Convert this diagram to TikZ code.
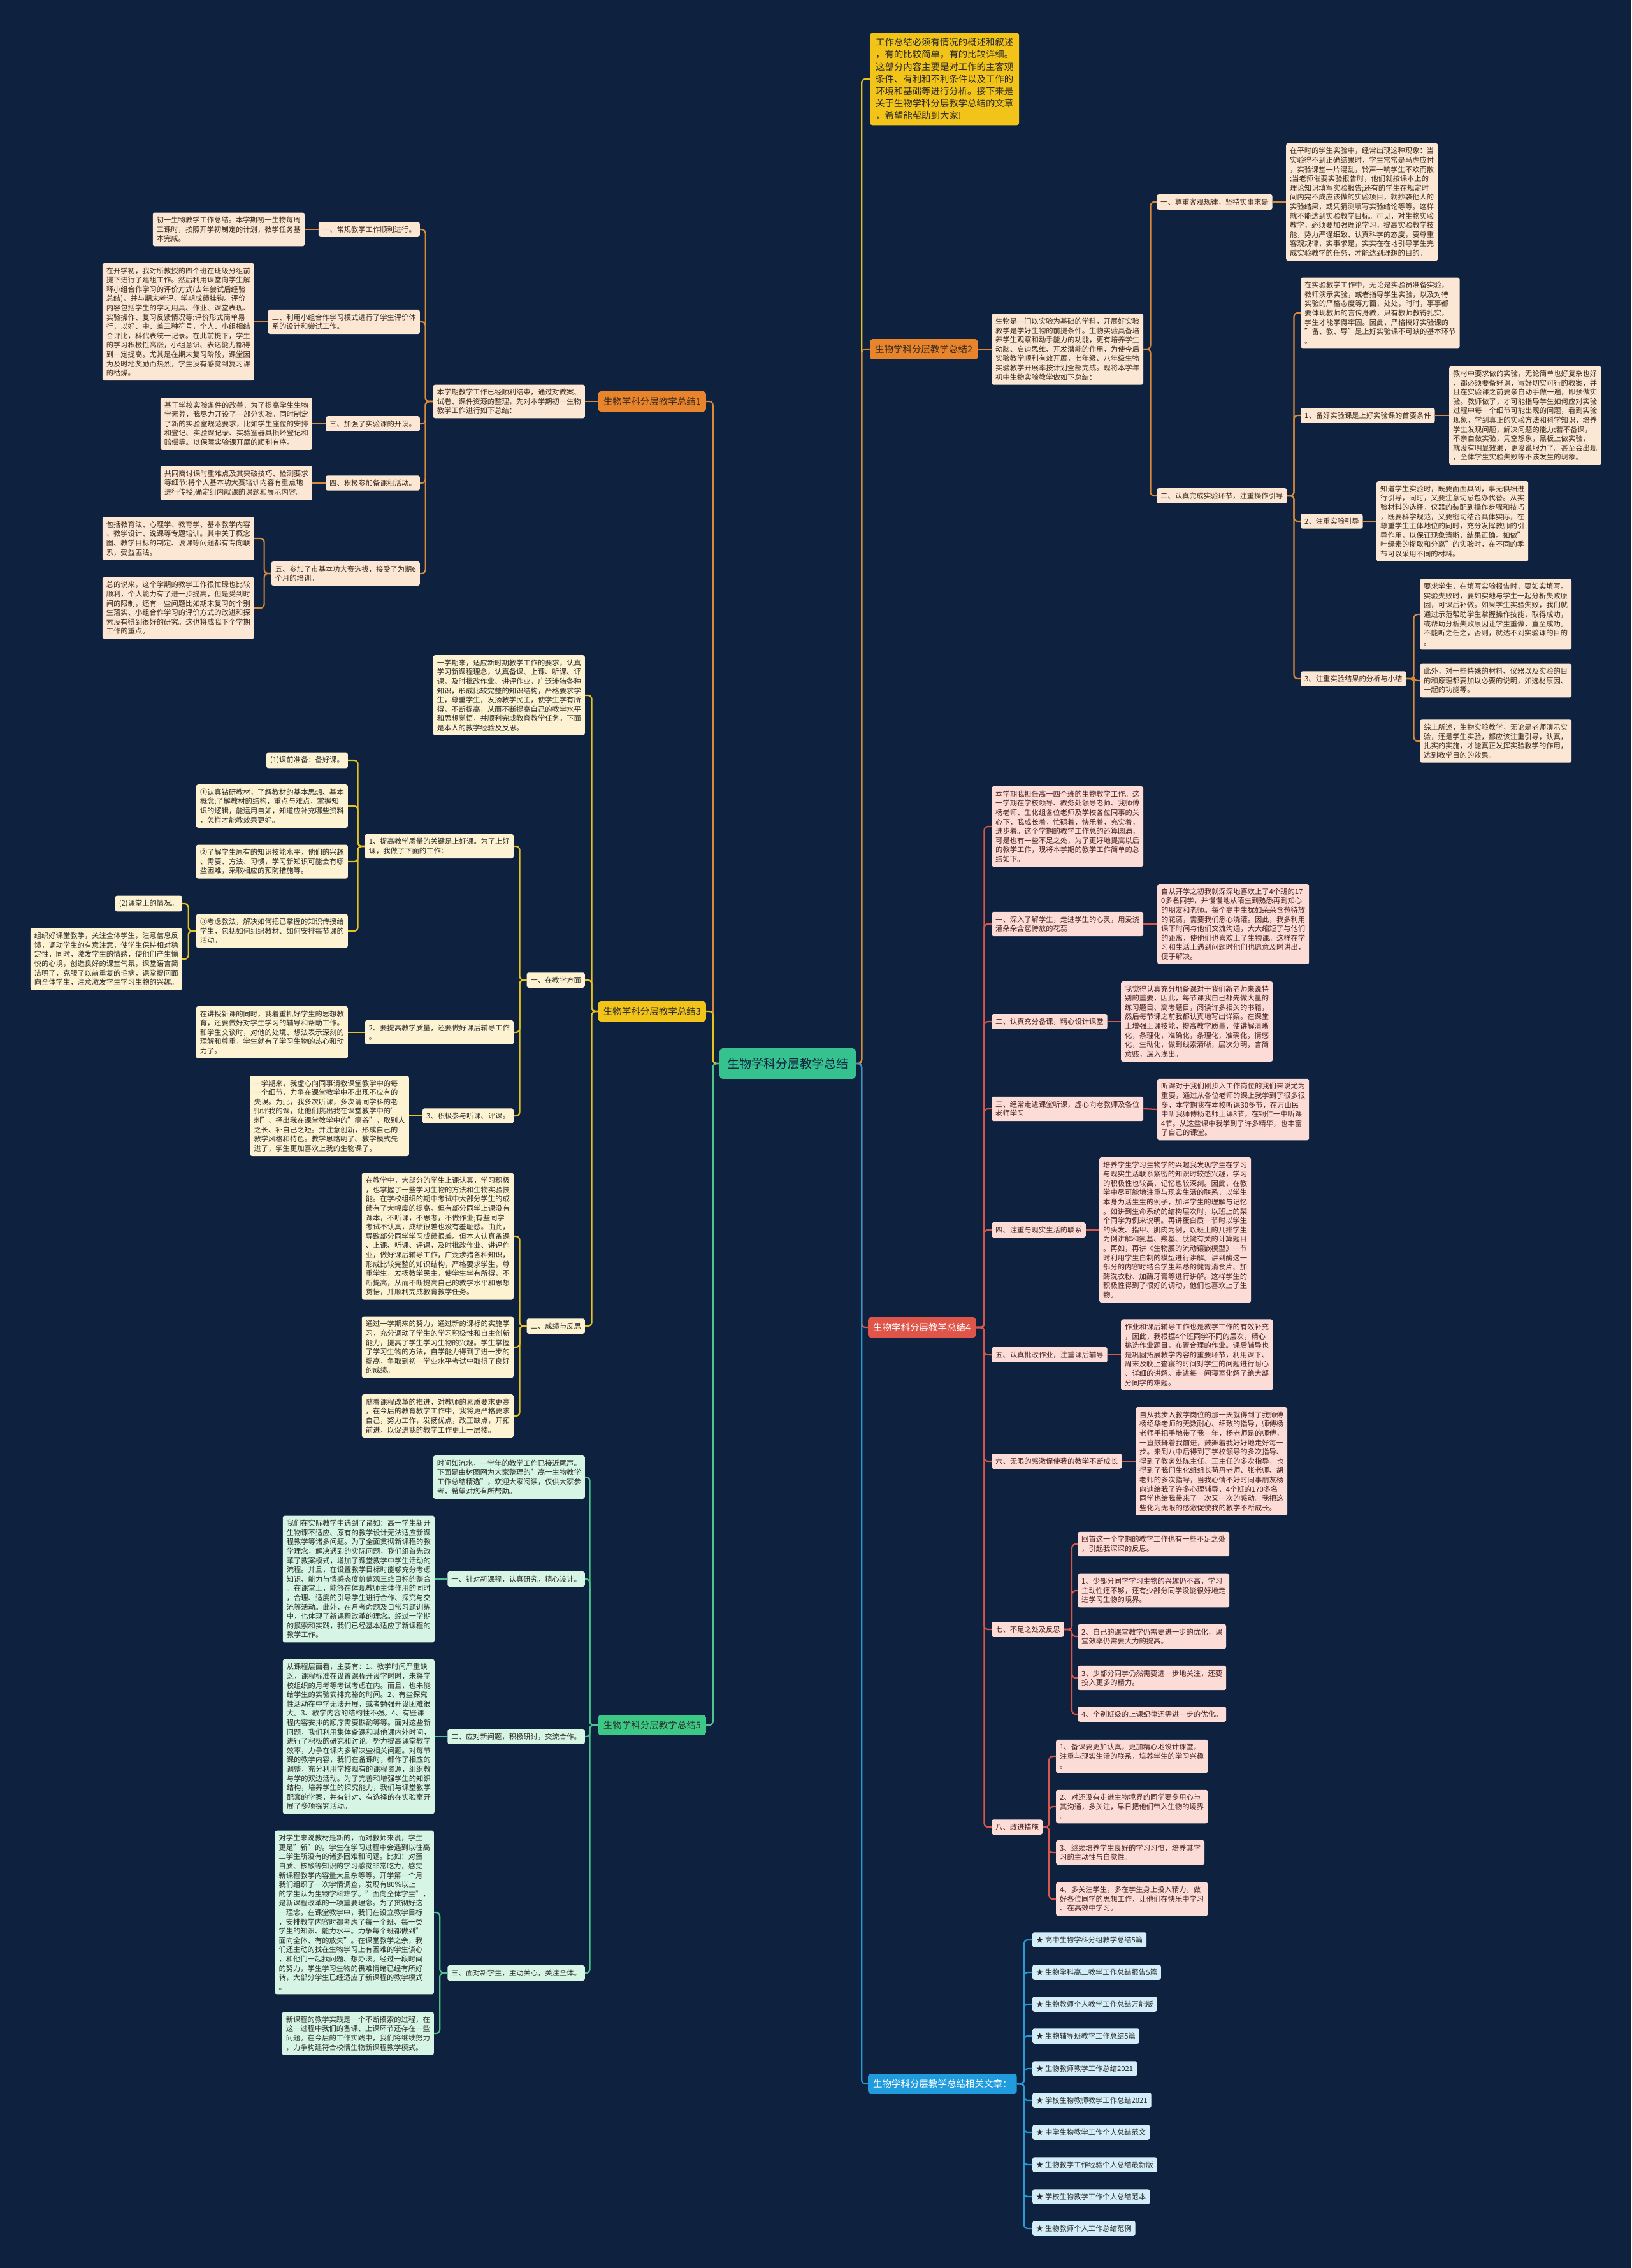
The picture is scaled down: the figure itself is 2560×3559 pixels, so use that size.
\documentclass[tikz,border=0pt]{standalone}
\usepackage{fontspec}
\setmainfont{Noto Sans CJK SC}
\usepackage{tikz}
\usetikzlibrary{positioning}
\definecolor{navyBg}{HTML}{0E2240}
\definecolor{rootGreen}{HTML}{36C28E}
\definecolor{topicOrange}{HTML}{E8842C}
\definecolor{topicGold}{HTML}{F2C318}
\definecolor{topicRed}{HTML}{E0554A}
\definecolor{topicGreen}{HTML}{3CC985}
\definecolor{topicBlue}{HTML}{1F9BDE}
\definecolor{cardPeach}{HTML}{FBE7D3}
\definecolor{cardCream}{HTML}{FDF3D2}
\definecolor{cardRose}{HTML}{FBDCD7}
\definecolor{cardMint}{HTML}{D6F5E4}
\definecolor{cardSky}{HTML}{D3EEF9}
\definecolor{lineOrange}{HTML}{D98A3A}
\definecolor{lineGold}{HTML}{E8C21E}
\definecolor{lineRed}{HTML}{D9574A}
\definecolor{lineGreen}{HTML}{4DC58D}
\definecolor{lineBlue}{HTML}{2A9AD6}
\definecolor{inkBrown}{HTML}{3A2A1E}
\definecolor{inkDark}{HTML}{2B2B2B}
\definecolor{inkRed}{HTML}{4A2020}
\newcommand{\cardsize}{\fontsize{11.3}{14.6}\selectfont}
\newcommand{\topicsize}{\fontsize{14.5}{18}\selectfont}
\newcommand{\notesize}{\fontsize{14.4}{19.2}\selectfont}
\newcommand{\rootsize}{\fontsize{19}{22}\selectfont}

\begin{document}
\begin{tikzpicture}[x=1pt, y=-1pt,
    card/.style={rounded corners=3pt, inner xsep=6pt, inner ysep=6.5pt, align=left, font=\cardsize},
    peach/.style={card, fill=cardPeach, text=inkBrown},
    cream/.style={card, fill=cardCream, text=inkDark},
    rose/.style={card, fill=cardRose, text=inkRed},
    mint/.style={card, fill=cardMint, text=inkDark},
    sky/.style={card, fill=cardSky, text=inkDark},
    topic/.style={rounded corners=4pt, inner xsep=8pt, inner ysep=9pt, font=\topicsize},
    rootbox/.style={rounded corners=5pt, fill=rootGreen, inner xsep=12pt, inner ysep=15pt, font=\rootsize, text=navyBg},
    notebox/.style={rounded corners=4pt, fill=topicGold, inner xsep=9pt, inner ysep=8pt, align=left, font=\notesize, text=inkDark},
    wireO/.style={draw=lineOrange, line width=2.2pt, rounded corners=6pt},
    wireY/.style={draw=lineGold, line width=2.2pt, rounded corners=6pt},
    wireR/.style={draw=lineRed, line width=2.2pt, rounded corners=6pt},
    wireG/.style={draw=lineGreen, line width=2.2pt, rounded corners=6pt},
    wireB/.style={draw=lineBlue, line width=2.2pt, rounded corners=6pt}]

  \fill[navyBg] (0,0) rectangle (2560,3559);

  % centre and top note
  \node[rootbox] (root) at (1236,1669) {生物学科分层教学总结};
  \node[notebox, anchor=west] (note) at (1365,124) {工作总结必须有情况的概述和叙述\\，有的比较简单，有的比较详细。\\这部分内容主要是对工作的主客观\\条件、有利和不利条件以及工作的\\环境和基础等进行分析。接下来是\\关于生物学科分层教学总结的文章\\，希望能帮助到大家!};

  % branch 1
  \node[topic, fill=topicOrange, text=inkBrown, anchor=east] (b1) at (1108,630) {生物学科分层教学总结1};
  \node[peach, anchor=east] (b1i) at (918,630) {本学期教学工作已经顺利结束，通过对教案、\\试卷、课件资源的整理，先对本学期初一生物\\教学工作进行如下总结：};
  \node[peach, anchor=east] (c1) at (659,360) {一、常规教学工作顺利进行。};
  \node[peach, anchor=east] (c1t) at (478,360) {初一生物教学工作总结。本学期初一生物每周\\三课时，按照开学初制定的计划，教学任务基\\本完成。};
  \node[peach, anchor=east] (c2) at (659,505) {二、利用小组合作学习模式进行了学生评价体\\系的设计和尝试工作。};
  \node[peach, anchor=east] (c2t) at (399,505) {在开学初，我对所教授的四个班在班级分组前\\提下进行了建组工作。然后利用课堂向学生解\\释小组合作学习的评价方式(去年尝试后经验\\总结)，并与期末考评、学期成绩挂钩。评价\\内容包括学生的学习用具、作业、课堂表现、\\实验操作、复习反馈情况等;评价形式简单易\\行，以好、中、差三种符号，个人、小组相结\\合评比，科代表统一记录。在此前提下，学生\\的学习积极性高涨，小组意识、表达能力都得\\到一定提高。尤其是在期末复习阶段，课堂因\\为及时地奖励而热烈，学生没有感觉到复习课\\的枯燥。};
  \node[peach, anchor=east] (c3) at (659,665) {三、加强了实验课的开设。};
  \node[peach, anchor=east] (c3t) at (490,665) {基于学校实验条件的改善，为了提高学生生物\\学素养，我尽力开设了一部分实验。同时制定\\了新的实验室规范要求，比如学生座位的安排\\和登记、实验课记录、实验室器具损坏登记和\\赔偿等。以保障实验课开展的顺利有序。};
  \node[peach, anchor=east] (c4) at (659,758) {四、积极参加备课租活动。};
  \node[peach, anchor=east] (c4t) at (490,758) {共同商讨课时重难点及其突破技巧、检测要求\\等细节;将个人基本功大赛培训内容有重点地\\进行传授;确定组内献课的课题和展示内容。};
  \node[peach, anchor=east] (c5) at (659,900) {五、参加了市基本功大赛选拔，接受了为期6\\个月的培训。};
  \node[peach, anchor=east] (c5a) at (399,845) {包括教育法、心理学、教育学、基本教学内容\\、教学设计、说课等专题培训。其中关于概念\\图、教学目标的制定、说课等问题都有专向联\\系，受益匪浅。};
  \node[peach, anchor=east] (c5b) at (399,954) {总的说来，这个学期的教学工作很忙碌也比较\\顺利，个人能力有了进一步提高，但是受到时\\间的限制，还有一些问题比如期末复习的个别\\生落实、小组合作学习的评价方式的改进和探\\索没有得到很好的研究。这也将成我下个学期\\工作的重点。};

  % branch 2
  \node[topic, fill=topicOrange, text=inkBrown, anchor=west] (b2) at (1365,548) {生物学科分层教学总结2};
  \node[peach, anchor=west] (b2i) at (1556,548) {生物是一门以实验为基础的学科，开展好实验\\教学是学好生物的前提条件。生物实验具备培\\养学生观察和动手能力的功能，更有培养学生\\动脑、启迪思维、开发潜能的作用，为使今后\\实验教学顺利有效开展，七年级、八年级生物\\实验教学开展率按计划全部完成。现将本学年\\初中生物实验教学做如下总结：};
  \node[peach, anchor=west] (d1) at (1815,317) {一、尊重客观规律，坚持实事求是};
  \node[peach, anchor=west] (d1t) at (2018,317) {在平时的学生实验中，经常出现这种现象：当\\实验得不到正确结果时，学生常常是马虎应付\\，实验课堂一片混乱，铃声一响学生不欢而散\\;当老师催要实验报告时，他们就按课本上的\\理论知识填写实验报告;还有的学生在规定时\\间内完不成应该做的实验项目，就抄袭他人的\\实验结果，或凭猜测填写实验结论等等。这样\\就不能达到实验教学目标。可见，对生物实验\\教学，必须要加强理论学习，提高实验教学技\\能，势力严谨细致、认真科学的态度，要尊重\\客观规律，实事求是，实实在在地引导学生完\\成实验教学的任务，才能达到理想的目的。};
  \node[peach, anchor=west] (d2) at (1815,778) {二、认真完成实验环节，注重操作引导};
  \node[peach, anchor=west] (d2t) at (2041,491) {在实验教学工作中，无论是实验员准备实验，\\教师演示实验，或者指导学生实验，以及对待\\实验的严格态度等方面，处处，时时，事事都\\要体现教师的言传身教，只有教师教得扎实，\\学生才能学得牢固。因此，严格搞好实验课的\\"备、教、导"是上好实验课不可缺的基本环节\\。};
  \node[peach, anchor=west] (e1) at (2041,652) {1、备好实验课是上好实验课的首要条件};
  \node[peach, anchor=west] (e1t) at (2274,652) {教材中要求做的实验，无论简单也好复杂也好\\，都必须要备好课，写好切实可行的教案，并\\且在实验课之前要亲自动手做一遍，即预做实\\验。教师做了，才可能指导学生如何应对实验\\过程中每一个细节可能出现的问题，看到实验\\现象，学到真正的实验方法和科学知识，培养\\学生发现问题，解决问题的能力;若不备课，\\不亲自做实验，凭空想象，黑板上做实验，\\就没有明显效果，更没说服力了。甚至会出现\\，全体学生实验失败等不该发生的现象。};
  \node[peach, anchor=west] (e2) at (2041,818) {2、注重实验引导};
  \node[peach, anchor=west] (e2t) at (2160,818) {知道学生实验时，既要面面具到，事无俱细进\\行引导，同时，又要注意切忌包办代替。从实\\验材料的选择，仪器的装配到操作步骤和技巧\\，既要科学规范，又要密切结合具体实际，在\\尊重学生主体地位的同时，充分发挥教师的引\\导作用，以保证现象清晰，结果正确。如做"\\叶绿素的提取和分离"的实验时，在不同的季\\节可以采用不同的材料。};
  \node[peach, anchor=west] (e3) at (2041,1065) {3、注重实验结果的分析与小结};
  \node[peach, anchor=west] (e3a) at (2228,964) {要求学生，在填写实验报告时，要如实填写。\\实验失败时，要如实地与学生一起分析失败原\\因，可课后补做。如果学生实验失败，我们就\\通过示范帮助学生掌握操作技能，取得成功，\\或帮助分析失败原因让学生重做，直至成功。\\不能听之任之，否则，就达不到实验课的目的\\。};
  \node[peach, anchor=west] (e3b) at (2228,1068) {此外，对一些特殊的材料、仪器以及实验的目\\的和原理都要加以必要的说明，如选材原因、\\一起的功能等。};
  \node[peach, anchor=west] (e3c) at (2228,1163) {综上所述，生物实验教学，无论是老师演示实\\验，还是学生实验，都应该注重引导，认真，\\扎实的实施，才能真正发挥实验教学的作用，\\达到教学目的的效果。};

  % branch 3
  \node[topic, fill=topicGold, text=inkDark, anchor=east] (b3) at (1108,1587) {生物学科分层教学总结3};
  \node[cream, anchor=east] (f0) at (918,1091) {一学期来，适应新时期教学工作的要求，认真\\学习新课程理念，认真备课、上课、听课、评\\课，及时批改作业、讲评作业，广泛涉猎各种\\知识，形成比较完整的知识结构，严格要求学\\生，尊重学生，发扬教学民主，使学生学有所\\得，不断提高，从而不断提高自己的教学水平\\和思想觉悟，并顺利完成教育教学任务。下面\\是本人的教学经验及反思。};
  \node[cream, anchor=east] (f1) at (918,1538) {一、在教学方面};
  \node[cream, anchor=east] (g1) at (806,1328) {1、提高教学质量的关键是上好课。为了上好\\课，我做了下面的工作：};
  \node[cream, anchor=east] (h1) at (546,1193) {(1)课前准备：备好课。};
  \node[cream, anchor=east] (h2) at (546,1265) {①认真钻研教材，了解教材的基本思想、基本\\概念;了解教材的结构，重点与难点，掌握知\\识的逻辑，能运用自如，知道应补充哪些资料\\，怎样才能教效果更好。};
  \node[cream, anchor=east] (h3) at (546,1352) {②了解学生原有的知识技能水平，他们的兴趣\\、需要、方法、习惯，学习新知识可能会有哪\\些困难，采取相应的预防措施等。};
  \node[cream, anchor=east] (h4) at (546,1461) {③考虑教法，解决如何把已掌握的知识传授给\\学生，包括如何组织教材、如何安排每节课的\\活动。};
  \node[cream, anchor=east] (h5) at (286,1418) {(2)课堂上的情况。};
  \node[cream, anchor=east] (h6) at (286,1505) {组织好课堂教学，关注全体学生，注意信息反\\馈，调动学生的有意注意，使学生保持相对稳\\定性，同时，激发学生的情感，使他们产生愉\\悦的心境，创造良好的课堂气氛，课堂语言简\\洁明了，克服了以前重复的毛病，课堂提问面\\向全体学生，注意激发学生学习生物的兴趣。};
  \node[cream, anchor=east] (g2) at (806,1620) {2、要提高教学质量，还要做好课后辅导工作\\。};
  \node[cream, anchor=east] (g2t) at (546,1620) {在讲授新课的同时，我着重抓好学生的思想教\\育，还要做好对学生学习的辅导和帮助工作。\\和学生交谈时，对他的处境、想法表示深刻的\\理解和尊重，学生就有了学习生物的热心和动\\力了。};
  \node[cream, anchor=east] (g3) at (806,1751) {3、积极参与听课、评课。};
  \node[cream, anchor=east] (g3t) at (642,1751) {一学期来，我虚心向同事请教课堂教学中的每\\一个细节，力争在课堂教学中不出现不应有的\\失误。为此，我多次听课，多次请同学科的老\\师评我的课，让他们挑出我在课堂教学中的"\\刺"、择出我在课堂教学中的"瘪谷"，取别人\\之长、补自己之短。并注意创新，形成自己的\\教学风格和特色。教学思路明了、教学模式先\\进了，学生更加喜欢上我的生物课了。};
  \node[cream, anchor=east] (f2) at (918,2081) {二、成绩与反思};
  \node[cream, anchor=east] (f2a) at (806,1940) {在教学中，大部分的学生上课认真，学习积极\\，也掌握了一些学习生物的方法和生物实验技\\能。在学校组织的期中考试中大部分学生的成\\绩有了大幅度的提高。但有部分同学上课没有\\课本，不听课，不思考，不做作业;有些同学\\考试不认真，成绩很差也没有羞耻感。由此，\\导致部分同学学习成绩很差。但本人认真备课\\、上课、听课、评课，及时批改作业、讲评作\\业，做好课后辅导工作，广泛涉猎各种知识，\\形成比较完整的知识结构，严格要求学生，尊\\重学生，发扬教学民主，使学生学有所得，不\\断提高，从而不断提高自己的教学水平和思想\\觉悟，并顺利完成教育教学任务。};
  \node[cream, anchor=east] (f2b) at (806,2114) {通过一学期来的努力，通过新的课标的实施学\\习，充分调动了学生的学习积极性和自主创新\\能力，提高了学生学习生物的兴趣。学生掌握\\了学习生物的方法，自学能力得到了进一步的\\提高，争取到初一学业水平考试中取得了良好\\的成绩。};
  \node[cream, anchor=east] (f2c) at (806,2222) {随着课程改革的推进，对教师的素质要求更高\\，在今后的教育教学工作中，我将更严格要求\\自己，努力工作，发扬优点，改正缺点，开拓\\前进，以促进我的教学工作更上一层楼。};

  % branch 4
  \node[topic, fill=topicRed, text=white, anchor=west] (b4) at (1362,2083) {生物学科分层教学总结4};
  \node[rose, anchor=west] (m0) at (1556,1297) {本学期我担任高一四个班的生物教学工作。这\\一学期在学校领导、教务处领导老师、我师傅\\杨老师、生化组各位老师及学校各位同事的关\\心下，我成长着，忙碌着，快乐着，充实着，\\进步着。这个学期的教学工作总的还算圆满，\\可是也有一些不足之处，为了更好地提高以后\\的教学工作，现将本学期的教学工作简单的总\\结如下。};
  \node[rose, anchor=west] (m1) at (1556,1450) {一、深入了解学生，走进学生的心灵，用爱浇\\灌朵朵含苞待放的花蕊};
  \node[rose, anchor=west] (m1t) at (1816,1450) {自从开学之初我就深深地喜欢上了4个班的17\\0多名同学，并慢慢地从陌生到熟悉再到知心\\的朋友和老师。每个高中生犹如朵朵含苞待放\\的花蕊，需要我们悉心浇灌。因此，我多利用\\课下时间与他们交流沟通，大大缩短了与他们\\的距离，使他们也喜欢上了生物课。这样在学\\习和生活上遇到问题时他们也愿意及时讲出，\\便于解决。};
  \node[rose, anchor=west] (m2) at (1556,1603) {二、认真充分备课，精心设计课堂};
  \node[rose, anchor=west] (m2t) at (1759,1603) {我觉得认真充分地备课对于我们新老师来说特\\别的重要，因此，每节课我自己都先做大量的\\练习题目、高考题目，阅读许多相关的书籍，\\然后每节课之前我都认真地写出详案。在课堂\\上增强上课技能，提高教学质量，使讲解清晰\\化，条理化，准确化，条理化，准确化，情感\\化，生动化，做到线索清晰，层次分明，言简\\意赅，深入浅出。};
  \node[rose, anchor=west] (m3) at (1556,1740) {三、经常走进课堂听课，虚心向老教师及各位\\老师学习};
  \node[rose, anchor=west] (m3t) at (1816,1741) {听课对于我们刚步入工作岗位的我们来说尤为\\重要，通过从各位老师的课上我学到了很多很\\多，本学期我在本校听课30多节，在万山民\\中听我师傅杨老师上课3节，在铜仁一中听课\\4节。从这些课中我学到了许多精华，也丰富\\了自己的课堂。};
  \node[rose, anchor=west] (m4) at (1556,1930) {四、注重与现实生活的联系};
  \node[rose, anchor=west] (m4t) at (1725,1930) {培养学生学习生物学的兴趣我发现学生在学习\\与现实生活联系紧密的知识时较感兴趣，学习\\的积极性也较高，记忆也较深刻。因此，在教\\学中尽可能地注重与现实生活的联系，以学生\\本身为活生生的例子，加深学生的理解与记忆\\。如讲到生命系统的结构层次时，以班上的某\\个同学为例来说明。再讲蛋白质一节时以学生\\的头发、指甲、肌肉为例，以班上的几排学生\\为例讲解和氨基、羧基、肽键有关的计算题目\\。再如，再讲《生物膜的流动镶嵌模型》一节\\时利用学生自制的模型进行讲解。讲到酶这一\\部分的内容时结合学生熟悉的健胃消食片、加\\酶洗衣粉、加酶牙膏等进行讲解。这样学生的\\积极性得到了很好的调动，他们也喜欢上了生\\物。};
  \node[rose, anchor=west] (m5) at (1556,2126) {五、认真批改作业，注重课后辅导};
  \node[rose, anchor=west] (m5t) at (1759,2126) {作业和课后辅导工作也是教学工作的有效补充\\，因此，我根据4个班同学不同的层次，精心\\挑选作业题目，布置合理的作业。课后辅导也\\是巩固拓展教学内容的重要环节，利用课下、\\周末及晚上查寝的时间对学生的问题进行耐心\\、详细的讲解。走进每一间寝室化解了绝大部\\分同学的难题。};
  \node[rose, anchor=west] (m6) at (1556,2293) {六、无限的感激促使我的教学不断成长};
  \node[rose, anchor=west] (m6t) at (1782,2293) {自从我步入教学岗位的那一天就得到了我师傅\\杨绍华老师的无数耐心、细致的指导，师傅杨\\老师手把手地带了我一年，杨老师是的师傅，\\一直鼓舞着我前进，鼓舞着我好好地走好每一\\步。来到八中后得到了学校领导的多次指导、\\得到了教务处陈主任、王主任的多次指导，也\\得到了我们生化组组长苟丹老师、张老师、胡\\老师的多次指导，当我心情不好时同事朋友杨\\向迪给我了许多心理辅导，4个班的170多名\\同学也给我带来了一次又一次的感动。我把这\\些化为无限的感激促使我的教学不断成长。};
  \node[rose, anchor=west] (m7) at (1556,2557) {七、不足之处及反思};
  \node[rose, anchor=west] (n1) at (1691,2423) {回首这一个学期的教学工作也有一些不足之处\\，引起我深深的反思。};
  \node[rose, anchor=west] (n2) at (1691,2496) {1、少部分同学学习生物的兴趣仍不高，学习\\主动性还不够，还有少部分同学没能很好地走\\进学习生物的境界。};
  \node[rose, anchor=west] (n3) at (1691,2568) {2、自己的课堂教学仍需要进一步的优化，课\\堂效率仍需要大力的提高。};
  \node[rose, anchor=west] (n4) at (1691,2633) {3、少部分同学仍然需要进一步地关注，还要\\投入更多的精力。};
  \node[rose, anchor=west] (n5) at (1691,2690) {4、个别班级的上课纪律还需进一步的优化。};
  \node[rose, anchor=west] (m8) at (1556,2867) {八、改进措施};
  \node[rose, anchor=west] (p1) at (1657,2756) {1、备课要更加认真，更加精心地设计课堂，\\注重与现实生活的联系，培养学生的学习兴趣\\。};
  \node[rose, anchor=west] (p2) at (1657,2835) {2、对还没有走进生物境界的同学要多用心与\\其沟通，多关注，早日把他们带入生物的境界\\。};
  \node[rose, anchor=west] (p3) at (1657,2907) {3、继续培养学生良好的学习习惯，培养其学\\习的主动性与自觉性。};
  \node[rose, anchor=west] (p4) at (1657,2980) {4、多关注学生，多在学生身上投入精力，做\\好各位同学的思想工作，让他们在快乐中学习\\、在高效中学习。};

  % branch 5
  \node[topic, fill=topicGreen, text=inkDark, anchor=east] (b5) at (1108,2707) {生物学科分层教学总结5};
  \node[mint, anchor=east] (k0) at (918,2318) {时间如流水，一学年的教学工作已接近尾声。\\下面是由树图网为大家整理的"高一生物教学\\工作总结精选"，欢迎大家阅读，仅供大家参\\考，希望对您有所帮助。};
  \node[mint, anchor=east] (k1) at (918,2478) {一、针对新课程，认真研究，精心设计。};
  \node[mint, anchor=east] (k1t) at (682,2478) {我们在实际教学中遇到了诸如：高一学生新开\\生物课不适应、原有的教学设计无法适应新课\\程教学等诸多问题。为了全面贯彻新课程的教\\学理念，解决遇到的实际问题，我们组首先改\\革了教案模式，增加了课堂教学中学生活动的\\流程。并且，在设置教学目标时能够充分考虑\\知识、能力与情感态度价值观三维目标的整合\\。在课堂上，能够在体现教师主体作用的同时\\，合理、适度的引导学生进行合作、探究与交\\流等活动。此外，在月考命题及日常习题训练\\中，也体现了新课程改革的理念。经过一学期\\的摸索和实践，我们已经基本适应了新课程的\\教学工作。};
  \node[mint, anchor=east] (k2) at (918,2725) {二、应对新问题，积极研讨，交流合作。};
  \node[mint, anchor=east] (k2t) at (682,2725) {从课程层面看，主要有：1、教学时间严重缺\\乏，课程标准在设置课程开设学时时，未将学\\校组织的月考等考试考虑在内。而且，也未能\\给学生的实验安排充裕的时间。2、有些探究\\性活动在中学无法开展，或者勉强开设困难很\\大。3、教学内容的结构性不强。4、有些课\\程内容安排的顺序需要斟酌等等。面对这些新\\问题，我们利用集体备课和其他课内外时间，\\进行了积极的研究和讨论。努力提高课堂教学\\效率，力争在课内多解决些相关问题。对每节\\课的教学内容，我们在备课时，都作了相应的\\调整，充分利用学校现有的课程资源，组织教\\与学的双边活动。为了完善和增强学生的知识\\结构，培养学生的探究能力，我们与课堂教学\\配套的学案，并有针对、有选择的在实验室开\\展了多项探究活动。};
  \node[mint, anchor=east] (k3) at (918,3096) {三、面对新学生，主动关心，关注全体。};
  \node[mint, anchor=east] (k3a) at (681,3001) {对学生来说教材是新的，而对教师来说，学生\\更是"新"的。学生在学习过程中会遇到以往高\\二学生所没有的诸多困难和问题。比如：对蛋\\白质、核酸等知识的学习感觉非常吃力，感觉\\新课程教学内容量大且杂等等。开学第一个月\\我们组织了一次学情调查，发现有80\%以上\\的学生认为生物学科难学。"面向全体学生"，\\是新课程改革的一项重要理念。为了贯彻好这\\一理念，在课堂教学中，我们在设立教学目标\\，安排教学内容时都考虑了每一个班、每一类\\学生的知识、能力水平。力争每个班都做到"\\面向全体、有的放矢"。在课堂教学之余，我\\们还主动的找在生物学习上有困难的学生谈心\\，和他们一起找问题、想办法。经过一段时间\\的努力，学生学习生物的畏难情绪已经有所好\\转，大部分学生已经适应了新课程的教学模式\\。};
  \node[mint, anchor=east] (k3b) at (681,3191) {新课程的教学实践是一个不断摸索的过程，在\\这一过程中我们的备课、上课环节还存在一些\\问题。在今后的工作实践中，我们将继续努力\\，力争构建符合校情生物新课程教学模式。};

  % branch 6
  \node[topic, fill=topicBlue, text=white, anchor=west] (b6) at (1362,3270) {生物学科分层教学总结相关文章：};
  \node[sky, anchor=west] (q1) at (1620,3044) {★ 高中生物学科分组教学总结5篇};
  \node[sky, anchor=west] (q2) at (1620,3095) {★ 生物学科高二教学工作总结报告5篇};
  \node[sky, anchor=west] (q3) at (1620,3145) {★ 生物教师个人教学工作总结万能版};
  \node[sky, anchor=west] (q4) at (1620,3195) {★ 生物辅导班教学工作总结5篇};
  \node[sky, anchor=west] (q5) at (1620,3246) {★ 生物教师教学工作总结2021};
  \node[sky, anchor=west] (q6) at (1620,3296) {★ 学校生物教师教学工作总结2021};
  \node[sky, anchor=west] (q7) at (1620,3346) {★ 中学生物教学工作个人总结范文};
  \node[sky, anchor=west] (q8) at (1620,3397) {★ 生物教学工作经验个人总结最新版};
  \node[sky, anchor=west] (q9) at (1620,3447) {★ 学校生物教学工作个人总结范本};
  \node[sky, anchor=west] (q10) at (1620,3497) {★ 生物教师个人工作总结范例};

  % connectors from the centre
  \draw[wireY] (root.east) -- ++(9,0) |- (note.west);
  \draw[wireO] (root.east) -- ++(9,0) |- (b2.west);
  \draw[wireR] (root.east) -- ++(9,0) |- (b4.west);
  \draw[wireB] (root.east) -- ++(9,0) |- (b6.west);
  \draw[wireO] (root.west) -- ++(-10,0) |- (b1.east);
  \draw[wireY] (root.west) -- ++(-10,0) |- (b3.east);
  \draw[wireG] (root.west) -- ++(-10,0) |- (b5.east);

  % branch 1 connectors
  \draw[wireO] (b1.west) -- (b1i.east);
  \draw[wireO] (b1i.west) -- ++(-12,0) |- (c1.east);
  \draw[wireO] (b1i.west) -- ++(-12,0) |- (c2.east);
  \draw[wireO] (b1i.west) -- ++(-12,0) |- (c3.east);
  \draw[wireO] (b1i.west) -- ++(-12,0) |- (c4.east);
  \draw[wireO] (b1i.west) -- ++(-12,0) |- (c5.east);
  \draw[wireO] (c1.west) -- (c1t.east);
  \draw[wireO] (c2.west) -- (c2t.east);
  \draw[wireO] (c3.west) -- (c3t.east);
  \draw[wireO] (c4.west) -- (c4t.east);
  \draw[wireO] (c5.west) -- ++(-11,0) |- (c5a.east);
  \draw[wireO] (c5.west) -- ++(-11,0) |- (c5b.east);

  % branch 2 connectors
  \draw[wireO] (b2.east) -- (b2i.west);
  \draw[wireO] (b2i.east) -- ++(11,0) |- (d1.west);
  \draw[wireO] (b2i.east) -- ++(11,0) |- (d2.west);
  \draw[wireO] (d1.east) -- (d1t.west);
  \draw[wireO] (d2.east) -- ++(11,0) |- (d2t.west);
  \draw[wireO] (d2.east) -- ++(11,0) |- (e1.west);
  \draw[wireO] (d2.east) -- ++(11,0) |- (e2.west);
  \draw[wireO] (d2.east) -- ++(11,0) |- (e3.west);
  \draw[wireO] (e1.east) -- (e1t.west);
  \draw[wireO] (e2.east) -- (e2t.west);
  \draw[wireO] (e3.east) -- ++(12,0) |- (e3a.west);
  \draw[wireO] (e3.east) -- ++(12,0) |- (e3b.west);
  \draw[wireO] (e3.east) -- ++(12,0) |- (e3c.west);

  % branch 3 connectors
  \draw[wireY] (b3.west) -- ++(-10,0) |- (f0.east);
  \draw[wireY] (b3.west) -- ++(-10,0) |- (f1.east);
  \draw[wireY] (b3.west) -- ++(-10,0) |- (f2.east);
  \draw[wireY] (f1.west) -- ++(-11,0) |- (g1.east);
  \draw[wireY] (f1.west) -- ++(-11,0) |- (g2.east);
  \draw[wireY] (f1.west) -- ++(-11,0) |- (g3.east);
  \draw[wireY] (g1.west) -- ++(-11,0) |- (h1.east);
  \draw[wireY] (g1.west) -- ++(-11,0) |- (h2.east);
  \draw[wireY] (g1.west) -- ++(-11,0) |- (h3.east);
  \draw[wireY] (g1.west) -- ++(-11,0) |- (h4.east);
  \draw[wireY] (h4.west) -- ++(-12,0) |- (h5.east);
  \draw[wireY] (h4.west) -- ++(-12,0) |- (h6.east);
  \draw[wireY] (g2.west) -- (g2t.east);
  \draw[wireY] (g3.west) -- (g3t.east);
  \draw[wireY] (f2.west) -- ++(-11,0) |- (f2a.east);
  \draw[wireY] (f2.west) -- ++(-11,0) |- (f2b.east);
  \draw[wireY] (f2.west) -- ++(-11,0) |- (f2c.east);

  % branch 4 connectors
  \draw[wireR] (b4.east) -- ++(13,0) |- (m0.west);
  \draw[wireR] (b4.east) -- ++(13,0) |- (m1.west);
  \draw[wireR] (b4.east) -- ++(13,0) |- (m2.west);
  \draw[wireR] (b4.east) -- ++(13,0) |- (m3.west);
  \draw[wireR] (b4.east) -- ++(13,0) |- (m4.west);
  \draw[wireR] (b4.east) -- ++(13,0) |- (m5.west);
  \draw[wireR] (b4.east) -- ++(13,0) |- (m6.west);
  \draw[wireR] (b4.east) -- ++(13,0) |- (m7.west);
  \draw[wireR] (b4.east) -- ++(13,0) |- (m8.west);
  \draw[wireR] (m1.east) -- (m1t.west);
  \draw[wireR] (m2.east) -- (m2t.west);
  \draw[wireR] (m3.east) -- (m3t.west);
  \draw[wireR] (m4.east) -- (m4t.west);
  \draw[wireR] (m5.east) -- (m5t.west);
  \draw[wireR] (m6.east) -- (m6t.west);
  \draw[wireR] (m7.east) -- ++(12,0) |- (n1.west);
  \draw[wireR] (m7.east) -- ++(12,0) |- (n2.west);
  \draw[wireR] (m7.east) -- ++(12,0) |- (n3.west);
  \draw[wireR] (m7.east) -- ++(12,0) |- (n4.west);
  \draw[wireR] (m7.east) -- ++(12,0) |- (n5.west);
  \draw[wireR] (m8.east) -- ++(10,0) |- (p1.west);
  \draw[wireR] (m8.east) -- ++(10,0) |- (p2.west);
  \draw[wireR] (m8.east) -- ++(10,0) |- (p3.west);
  \draw[wireR] (m8.east) -- ++(10,0) |- (p4.west);

  % branch 5 connectors
  \draw[wireG] (b5.west) -- ++(-13,0) |- (k0.east);
  \draw[wireG] (b5.west) -- ++(-13,0) |- (k1.east);
  \draw[wireG] (b5.west) -- ++(-13,0) |- (k2.east);
  \draw[wireG] (b5.west) -- ++(-13,0) |- (k3.east);
  \draw[wireG] (k1.west) -- (k1t.east);
  \draw[wireG] (k2.west) -- (k2t.east);
  \draw[wireG] (k3.west) -- ++(-12,0) |- (k3a.east);
  \draw[wireG] (k3.west) -- ++(-12,0) |- (k3b.east);

  % branch 6 connectors
  \draw[wireB] (b6.east) -- ++(11,0) |- (q1.west);
  \draw[wireB] (b6.east) -- ++(11,0) |- (q2.west);
  \draw[wireB] (b6.east) -- ++(11,0) |- (q3.west);
  \draw[wireB] (b6.east) -- ++(11,0) |- (q4.west);
  \draw[wireB] (b6.east) -- ++(11,0) |- (q5.west);
  \draw[wireB] (b6.east) -- ++(11,0) |- (q6.west);
  \draw[wireB] (b6.east) -- ++(11,0) |- (q7.west);
  \draw[wireB] (b6.east) -- ++(11,0) |- (q8.west);
  \draw[wireB] (b6.east) -- ++(11,0) |- (q9.west);
  \draw[wireB] (b6.east) -- ++(11,0) |- (q10.west);
\end{tikzpicture}
\end{document}
